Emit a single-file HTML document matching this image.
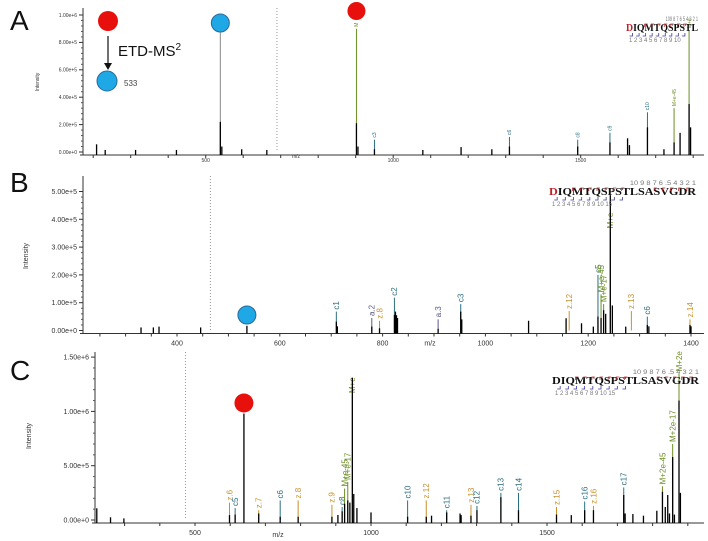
<!DOCTYPE html>
<html><head><meta charset="utf-8"><style>
body{margin:0;background:#fff;}
svg{display:block;font-family:"Liberation Sans",sans-serif;}
</style></head><body>
<svg id="chart" width="708" height="541" viewBox="0 0 708 541" xmlns="http://www.w3.org/2000/svg"></svg>
<script>
// ---------- Panel A data ----------
const aMz  = [209,232,313,422,539,543,596,663,902,906,950,1079,1181,1263,1310,1492,1578,1625,1630,1678,1722,1749,1765,1789,1793];
const aInt = [0.056,0.015,0.015,0.015,0.22,0.04,0.02,0.015,0.21,0.04,0.02,0.015,0.036,0.02,0.04,0.04,0.07,0.1,0.05,0.18,0.02,0.07,0.14,0.35,0.18];
const aAnnMz  = [539,902,950,1310,1492,1578,1678,1749,1789];
const aAnnTop = [0.88,0.9,0.09,0.11,0.09,0.14,0.29,0.32,0.89];
const aAnnLbl = ["","M","c3","c6","c8","c9","c10","M+e-45","M+e"];
const aTicks = ["0.00e+0","2.00e+5","4.00e+5","6.00e+5","8.00e+5","1.00e+6"];
const aXTicks = [500,1000,1500];
// ---------- Panel B data ----------
const bMz  = [330,354,365,446,536,710,712,779,794,823,825,827,829,908,952,954,1084,1157,1187,1210,1219,1225,1230,1234,1243,1247,1273,1315,1318,1398,1400];
const bInt = [0.11,0.11,0.14,0.11,0.17,0.32,0.15,0.14,0.08,0.56,0.68,0.55,0.45,0.06,0.68,0.4,0.35,0.44,0.26,0.14,0.5,0.45,0.73,0.6,4.87,0.9,0.14,0.2,0.15,0.2,0.15];
const bAnnMz  = [710,779,794,823,908,952,1163,1219,1225,1230,1243,1284,1315,1398];
const bAnnTop = [0.68,0.45,0.35,1.18,0.4,0.95,0.7,2.0,1.3,0.95,3.6,0.7,0.5,0.4];
const bAnnLbl = ["c1","a.2","z.8","c2","a.3","c3","z.12","c5","M+e-45","M+e-17","M+e","z.13","c6","z.14"];
const bTicks = ["0.00e+0","1.00e+5","2.00e+5","3.00e+5","4.00e+5","5.00e+5"];
const bXTicks = [400,600,800,1000,1200,1400];
// ---------- Panel C data ----------
const cMz  = [221,260,298,598,614,639,681,742,793,889,906,918,925,934,940,947,951,960,1000,1104,1157,1172,1215,1253,1256,1284,1301,1369,1419,1527,1569,1607,1632,1718,1722,1744,1774,1812,1828,1836,1843,1848,1857,1862,1875,1879];
const cInt = [1.08,0.25,0.15,0.45,0.5,9.8,0.6,0.3,0.3,0.3,0.46,0.8,1.5,1.8,1.6,13.1,2.4,1.1,0.7,0.3,0.3,0.4,0.7,0.6,0.45,0.4,0.9,2.1,0.9,0.5,0.45,0.9,0.9,2.3,0.6,0.55,0.4,0.85,2.6,1.2,2.3,0.6,5.8,0.5,11,2.5];
const cAnnMz  = [598,614,681,742,793,889,918,925,934,947,1104,1157,1215,1284,1301,1369,1419,1527,1607,1632,1718,1828,1857,1875];
const cAnnTop = [1.6,1.1,0.9,1.8,1.8,1.4,1.2,2.9,3.5,11.5,1.8,1.8,0.9,1.4,1.3,2.5,2.5,1.2,1.7,1.3,3.0,3.1,7.0,13.5];
const cAnnLbl = ["z.6","c5","z.7","c6","z.8","z.9","c8","M+e-45","M+e-17","M+e","c10","z.12","c11","z.13","c12","c13","c14","z.15","c16","z.16","c17","M+2e-45","M+2e-17","M+2e"];
const cTicks = ["0.00e+0","5.00e+5","1.00e+6","1.50e+6"];
const cXTicks = [500,1000,1500];

const NS="http://www.w3.org/2000/svg";
const svg=document.getElementById('chart');
function mk(tag,attrs,parent){const e=document.createElementNS(NS,tag);for(const k in attrs)e.setAttribute(k,attrs[k]);(parent||svg).appendChild(e);return e;}
function colorFor(l){if(l==="")return "#888";if(l[0]==='c')return "#2a6f80";if(l[0]==='z')return "#c8902a";if(l[0]==='a')return "#5a5a8a";return "#6b8e23";}

function panel(cfg){
  const g=mk('g',{});
  
  
  const X=m=>cfg.xRef+(m-cfg.mRef)*cfg.ppm;
  const Y=v=>cfg.base-v*cfg.ppv;
  const ya=mk('line',{x1:cfg.x0,y1:cfg.top,x2:cfg.x0,y2:cfg.base+3,stroke:'#333','stroke-width':1},g);
  
  
  const xa=mk('line',{x1:cfg.x0-3,y1:cfg.base+3,x2:cfg.x1,y2:cfg.base+3,stroke:'#333','stroke-width':1},g);
  
  
  cfg.yTicks.forEach((t,i)=>{
    const y=Y(i*cfg.yStep);
    mk('line',{x1:cfg.x0-4,y1:y,x2:cfg.x0,y2:y,stroke:'#333'},g);
    const tx=mk('text',{x:cfg.x0-6,y:y+cfg.fs*0.35,'font-size':cfg.fs,'text-anchor':'end',fill:'#333'},g);
    tx.textContent=t;
    
    
    if(i<cfg.yTicks.length-1){for(let k=1;k<5;k++){const yy=Y((i+k/5)*cfg.yStep);mk('line',{x1:cfg.x0-2,y1:yy,x2:cfg.x0,y2:yy,stroke:'#555'},g);}}
  });
  const minorStep=cfg.xMinor;
  for(let m=Math.ceil(cfg.mMin/minorStep)*minorStep;X(m)<=cfg.x1;m+=minorStep){
    const x=X(m); if(x<cfg.x0)continue;
    mk('line',{x1:x,y1:cfg.base+3,x2:x,y2:cfg.base+6,stroke:'#333'},g);
  }
  cfg.xTicks.forEach(t=>{
    const tx=mk('text',{x:X(t),y:cfg.base+cfg.xlY,'font-size':cfg.fs,'text-anchor':'middle',fill:'#333'},g);
    tx.textContent=t;
    
    
  });
  const mz=mk('text',{x:cfg.mzX,y:cfg.base+cfg.mzY,'font-size':cfg.fs,'text-anchor':'middle',fill:'#333'},g);
  mz.textContent='m/z';
  
  
  const yt=mk('text',{x:cfg.ytX,y:cfg.ytY,'font-size':cfg.fs,'text-anchor':'middle',fill:'#333',transform:`rotate(-90 ${cfg.ytX} ${cfg.ytY})`},g);
  yt.textContent='Intensity';
  
  
  const dl=mk('line',{x1:X(cfg.dotMz),y1:cfg.top,x2:X(cfg.dotMz),y2:cfg.base,stroke:'#999','stroke-dasharray':'1,2'},g);
  
  
  cfg.annMz.forEach((m,i)=>{
    const x=X(m),yt2=Y(cfg.annTop[i]),c=colorFor(cfg.annLbl[i]);
    const l=mk('line',{x1:x,y1:yt2,x2:x,y2:cfg.base,stroke:c,'stroke-width':1},g);
    
    
    if(cfg.annLbl[i]){
      const tx=mk('text',{x:x+cfg.afs*0.35,y:yt2-2,'font-size':cfg.afs,fill:c,transform:`rotate(-90 ${x+cfg.afs*0.35} ${yt2-2})`},g);
      tx.textContent=cfg.annLbl[i];
      
      
    }
  });
  cfg.mz.forEach((m,i)=>{
    const x=X(m);
    const p=mk('line',{x1:x,y1:Y(cfg.int[i]),x2:x,y2:cfg.base+3,stroke:'#000','stroke-width':1.3},g);
    
    
  });
  const L=mk('text',{x:10,y:cfg.letterY,'font-size':28,fill:'#111'},g);
  L.textContent=cfg.letter;
  
  
  return {X,Y,g};
}

const A=panel({name:'panel-a',letter:'A',letterY:30,x0:83,x1:704,top:8,base:152,xRef:205.7,mRef:500,ppm:0.375,mMin:175,xMinor:100,
  ppv:137,yStep:0.2,yTicks:aTicks,xTicks:aXTicks,fs:5,afs:5,xlY:10,mzX:296,mzY:6,ytX:39,ytY:82,dotMz:690,
  mz:aMz,int:aInt,annMz:aAnnMz,annTop:aAnnTop,annLbl:aAnnLbl});
const B=panel({name:'panel-b',letter:'B',letterY:192,x0:83,x1:704,top:176,base:330.5,xRef:177,mRef:400,ppm:0.514,mMin:218,xMinor:50,
  ppv:27.8,yStep:1,yTicks:bTicks,xTicks:bXTicks,fs:7,afs:8,xlY:15,mzX:430,mzY:15,ytX:28,ytY:256,dotMz:465,
  mz:bMz,int:bInt,annMz:bAnnMz,annTop:bAnnTop,annLbl:bAnnLbl});
const C=panel({name:'panel-c',letter:'C',letterY:380,x0:95,x1:704,top:352,base:520,xRef:195,mRef:500,ppm:0.352,mMin:215,xMinor:100,
  ppv:10.86,yStep:5,yTicks:cTicks,xTicks:cXTicks,fs:7,afs:8,xlY:15,mzX:278,mzY:17,ytX:31,ytY:436,dotMz:473,
  mz:cMz,int:cInt,annMz:cAnnMz,annTop:cAnnTop,annLbl:cAnnLbl});

function circ(x,y,r,fill,name){const c=mk('circle',{cx:x,cy:y,r:r,fill:fill,stroke:fill==='#e8100c'?'none':'#2a6a9a','stroke-width':1});}
const RED='#e8100c',BLUE='#1ea8e6';
circ(108,21,10,RED,'precursor-red-marker');
circ(107,81,10,BLUE,'product-blue-marker');
mk('line',{x1:108,y1:36,x2:108,y2:64,stroke:'#111','stroke-width':1.2});
mk('path',{d:'M104,63 L112,63 L108,70 Z',fill:'#111'});
const etd=mk('text',{x:118,y:56,'font-size':15,fill:'#111'});
etd.innerHTML='ETD-MS<tspan dy="-6" font-size="10">2</tspan>';


const t533=mk('text',{x:124,y:86,'font-size':8,fill:'#444'});t533.textContent='533';


circ(A.X(539),23,9,BLUE,'panel-a-blue-marker');
circ(A.X(902),11,9,RED,'panel-a-red-marker');
circ(B.X(536),315,9,BLUE,'panel-b-blue-marker');
circ(C.X(639),403,9.5,RED,'panel-c-red-marker');

function seq(x,y,w,txt,top,bot,name,redFirst){
  const g=mk('g',{});
  const t=mk('text',{x:x,y:y,'font-size':11,'font-weight':'bold','font-family':'"Liberation Serif",serif',textLength:w,lengthAdjust:'spacingAndGlyphs',fill:'#111'},g);
  if(redFirst){t.innerHTML='<tspan fill="#c0202a">'+txt[0]+'</tspan>'+txt.slice(1);}else t.textContent=txt;
  const tw=Math.min(w*0.45,70);
  const n1=mk('text',{x:x+w-tw,y:y-10,'font-size':6,fill:'#777',textLength:tw,lengthAdjust:'spacingAndGlyphs'},g);n1.textContent=top;
  const n2=mk('text',{x:x+3,y:y+11,'font-size':6,fill:'#777'},g);n2.textContent=bot;
  const step=w/txt.length;
  for(let i=3;i<txt.length;i++){if(i<10||i>12){mk('path',{d:`M${x+i*step-1},${y-4} v-3 h3`,stroke:'#b03030',fill:'none','stroke-width':0.8},g);}}
  for(let i=1;i<Math.min(10,txt.length);i++){mk('path',{d:`M${x+i*step},${y+2} v3 h-3`,stroke:'#3a3aa0',fill:'none','stroke-width':0.8},g);}
}
seq(626,31,72,'DIQMTQSPSTL','109 8 7 6 5 4 3 2 1','1 2 3 4 5 6 7 8 9 10','panel-a-sequence',true);
seq(549,195,147,'DIQMTQSPSTLSASVGDR','10 9 8 7 6 .5 4 3 2 1','1 2 3 4 5 6 7 8 9 10       15','panel-b-sequence',true);
seq(552,384,147,'DIQMTQSPSTLSASVGDR','10 9 8 7 6 .5 4 3 2 1','1 2 3 4 5 6 7 8 9 10       15','panel-c-sequence',false);
</script>
</body></html>
